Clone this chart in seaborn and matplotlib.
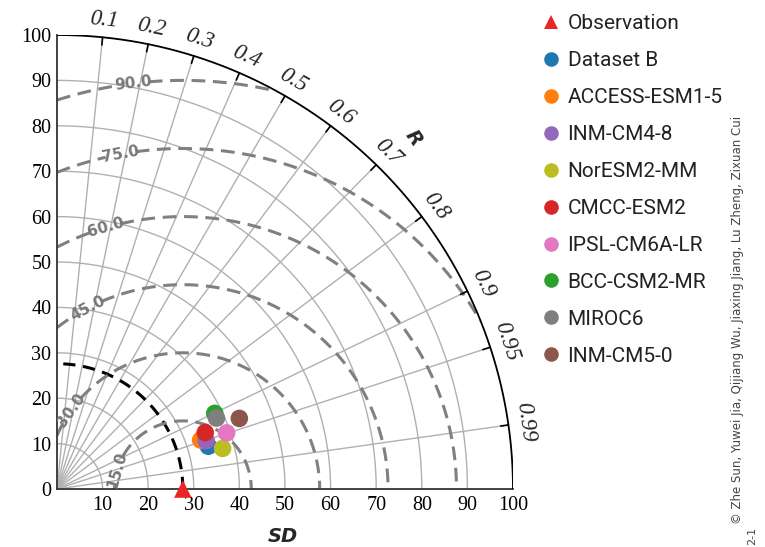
"""Taylor diagram — seaborn + matplotlib"""

import numpy as np
import pandas as pd
import matplotlib
matplotlib.use("Agg")
import matplotlib.pyplot as plt
import seaborn as sns

# データ
ref_sd = 27.6
models = ["Dataset B", "ACCESS-ESM1-5", "INM-CM4-8", "NorESM2-MM", "CMCC-ESM2",
          "IPSL-CM6A-LR", "BCC-CSM2-MR", "MIROC6", "INM-CM5-0"]
model_sd = [34.5, 33.3, 34.4, 37.4, 34.8, 39.2, 38.4, 38.3, 42.9]
model_r = [0.962, 0.946, 0.951, 0.971, 0.934, 0.949, 0.901, 0.913, 0.932]
model_colors = ["#1f77b4", "#ff7f0e", "#9467bd", "#bcbd22", "#d62728",
                "#e377c2", "#2ca02c", "#7f7f7f", "#8c564b"]
obs_color = "#e8262a"

r_ticks = [0.1, 0.2, 0.3, 0.4, 0.5, 0.6, 0.7, 0.8, 0.9, 0.95, 0.99]
sd_ticks = [0, 10, 20, 30, 40, 50, 60, 70, 80, 90, 100]
rms_levels = [15, 30, 45, 60, 75, 90]
rms_label_deg = [164, 144.5, 117.7, 106.4, 100.5, 96.9]
sd_max = 100

sns.set_style("white")
plt.rcParams["font.family"] = ["Liberation Serif", "DejaVu Serif"]

fig = plt.figure(figsize=(7.65, 5.47), dpi=100)
ax = fig.add_axes([57 / 765, 58 / 547, 456 / 765, 454 / 547])
ax.set_xlim(0, sd_max)
ax.set_ylim(0, sd_max)

grid_c = "#b0b0b0"
t = np.linspace(0, np.pi / 2, 300)
# SD の円弧
for s in sd_ticks[1:-1]:
    ax.plot(s * np.cos(t), s * np.sin(t), color=grid_c, lw=1.0, zorder=1)
# 相関の放射線
for r in r_ticks:
    a = np.arccos(r)
    ax.plot([0, sd_max * np.cos(a)], [0, sd_max * np.sin(a)], color=grid_c, lw=1.0, zorder=1)
    ax.plot([98.3 * np.cos(a), sd_max * np.cos(a)], [98.3 * np.sin(a), sd_max * np.sin(a)],
            color="black", lw=1.2, zorder=3)
    ax.text(103.8 * np.cos(a), 103.8 * np.sin(a), f"{r:g}", rotation=np.degrees(a) - 90,
            ha="center", va="center", fontsize=16.5, style="italic")
# 外周
ax.plot(sd_max * np.cos(t), sd_max * np.sin(t), color="black", lw=1.3, zorder=3)
# 観測の SD
ax.plot(ref_sd * np.cos(t), ref_sd * np.sin(t), color="black", lw=2.2, ls=(0, (4, 2.5)), zorder=2)

# RMSD 等値線
xg, yg = np.meshgrid(np.linspace(0, sd_max, 600), np.linspace(0, sd_max, 600))
rms = np.sqrt((xg - ref_sd) ** 2 + yg ** 2)
rms[np.hypot(xg, yg) > sd_max] = np.nan
cs = ax.contour(xg, yg, rms, levels=rms_levels, colors="#808080", linewidths=2.2,
                linestyles=[(0, (4.5, 2.5))], zorder=2)
manual = [(ref_sd + lv * np.cos(np.radians(d)), lv * np.sin(np.radians(d)))
          for lv, d in zip(rms_levels, rms_label_deg)]
labels = ax.clabel(cs, fmt="%.1f", manual=manual, inline=True, inline_spacing=2, fontsize=11)
for lb in labels:
    lb.set_fontweight("bold")
    lb.set_color("#777777")
    lb.set_fontfamily(["DejaVu Sans"])

# 点
df = pd.DataFrame({
    "name": ["Observation"] + models,
    "sd": [ref_sd] + model_sd,
    "r": [1.0] + model_r,
})
df["x"] = df["sd"] * df["r"]
df["y"] = df["sd"] * np.sin(np.arccos(df["r"]))
palette = dict(zip(["Observation"] + models, [obs_color] + model_colors))
markers = {n: "o" for n in models}
markers["Observation"] = "^"
sns.scatterplot(data=df, x="x", y="y", hue="name", style="name", palette=palette,
                markers=markers, s=160, linewidth=0, ax=ax, zorder=5, clip_on=False,
                legend=True)
handles, names = ax.get_legend_handles_labels()
ax.get_legend().remove()
for h in handles:
    h.set_markersize(10.5)
leg = fig.legend(handles, names, loc="upper left", bbox_to_anchor=(0.682, 1.008),
                 frameon=False, handletextpad=0.3, handlelength=1.0, labelspacing=0.86,
                 prop={"family": "Roboto", "size": 15})
for txt in leg.get_texts():
    txt.set_color("#222222")

# 軸
for side in ["top", "right"]:
    ax.spines[side].set_visible(False)
for side in ["left", "bottom"]:
    ax.spines[side].set_color("#333333")
    ax.spines[side].set_linewidth(1.3)
ax.set_xticks(sd_ticks)
ax.set_xticklabels([""] + [str(v) for v in sd_ticks[1:]])
ax.set_yticks(sd_ticks)
ax.tick_params(direction="in", length=5, width=1.2, colors="#333333", labelsize=14.5,
               labelcolor="black", pad=5)
ax.tick_params(axis="y", pad=4)
ax.set_xlabel("")
ax.set_ylabel("")
fig.text(283 / 765, 1 - 537 / 547, "SD", fontsize=14, fontweight="bold", style="italic",
         family=["DejaVu Sans"], ha="center", va="center")
fig.text(413 / 765, 1 - 138 / 547, "R", fontsize=14, fontweight="bold", style="italic",
         family=["DejaVu Sans"], ha="center", va="center", rotation=-55)
fig.text(738 / 765, 1 - 320 / 547,
         "© Zhe Sun, Yuwei Jia, Qijiang Wu, Jiaxing Jiang, Lu Zheng, Zixuan Cui",
         fontsize=8.5, color="#444444", rotation=90, ha="center", va="center",
         family=["DejaVu Sans"])
fig.text(752 / 765, 2 / 547, "2-1", fontsize=8, color="#444444", rotation=90,
         ha="center", va="bottom", family=["DejaVu Sans"])

fig.savefig("out.png", dpi=100)
